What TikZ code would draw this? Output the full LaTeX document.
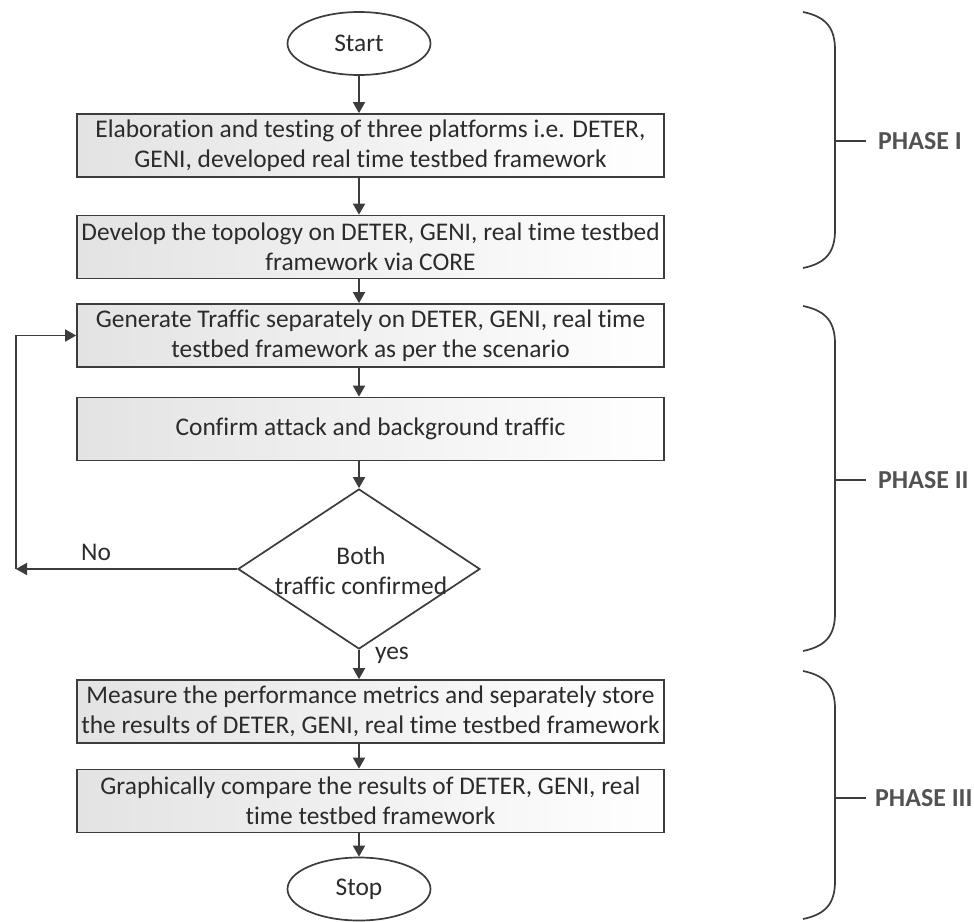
\documentclass[tikz,border=0pt]{standalone}
\usepackage{fontspec}
\setmainfont{Carlito}[Ligatures=NoCommon]
\usetikzlibrary{arrows.meta,shapes.geometric}
\definecolor{ln}{HTML}{3C3C3C}
\definecolor{tx}{HTML}{2B2B2B}
\begin{document}
\begin{tikzpicture}[x=1bp,y=-1bp,
  every node/.style={text=tx},
  txt/.style={font=\fontsize{25.5}{30.5}\selectfont, align=center, inner sep=0},
  box/.style={txt, draw=ln, line width=1.7bp, left color=black!11, right color=white,
    minimum width=587bp, minimum height=63bp},
  term/.style={txt, ellipse, draw=ln, line width=1.7bp, fill=white,
    minimum width=143bp, minimum height=63bp},
  decision/.style={diamond, draw=ln, line width=1.7bp, fill=white,
    minimum width=242bp, minimum height=160bp, inner sep=0},
  arr/.style={draw=ln, line width=1.7bp, -{Triangle[length=11bp,width=12bp]}},
  bracecurve/.style={draw=ln, line width=1.7bp},
  phase/.style={font=\fontsize{26}{30}\selectfont\bfseries, text=black!68, anchor=west, inner sep=0}
]
\useasboundingbox[fill=white] (0,0) rectangle (974,922);

\coordinate (col) at (359,0);
\node[term] (start) at (359,43.5) {Start};
\node[box] (b1) at (370.5,145.5) {Elaboration and testing of three platforms i.e. DETER,\\GENI, developed real time testbed framework};
\node[box] (b2) at (370.5,247) {Develop the topology on DETER, GENI, real time testbed\\framework via CORE};
\node[box] (b3) at (370.5,335.5) {Generate Traffic separately on DETER, GENI, real time\\testbed framework as per the scenario};
\node[box] (b4) at (370.5,429) {Confirm attack and background traffic};
\node[decision] (dia) at (359,569) {};
\node[txt] (diatext) at (361,571) {Both\\traffic confirmed};
\node[box] (b5) at (370.5,711.5) {Measure the performance metrics and separately store\\the results of DETER, GENI, real time testbed framework};
\node[box] (b6) at (370.5,801) {Graphically compare the results of DETER, GENI, real\\time testbed framework};
\node[term] (stop) at (359,889) {Stop};

\draw[arr] (start.south) -- (start.south |- b1.north);
\draw[arr] (b1.south -| col) -- (b2.north -| col);
\draw[arr] (b2.south -| col) -- (b3.north -| col);
\draw[arr] (b3.south -| col) -- (b4.north -| col);
\draw[arr] (b4.south -| col) -- (dia.north);
\draw[arr] (dia.south) -- (b5.north -| col);
\draw[arr] (b5.south -| col) -- (b6.north -| col);
\draw[arr] (b6.south -| col) -- (stop.north);

\coordinate (lc) at (16,569);
\draw[arr] (dia.west) -- (lc);
\draw[arr] (lc) -- (lc |- b3.west) -- (b3.west);
\node[txt] (nolab) at (96,552) {No};
\node[txt] (yeslab) at (392,655) {yes};

% braces
\draw[bracecurve] (803,12) .. controls (828,17) and (835,30) .. (835,50) -- (835,230) .. controls (835,250) and (828,263) .. (803,268);
\draw[bracecurve] (835,141) -- (866,141);
\node[phase] (p1) at (878,141) {PHASE I};

\draw[bracecurve] (803,306) .. controls (828,311) and (835,324) .. (835,344) -- (835,613) .. controls (835,633) and (828,646) .. (803,651);
\draw[bracecurve] (835,480) -- (866,480);
\node[phase] (p2) at (878,480) {PHASE II};

\draw[bracecurve] (803,671) .. controls (828,676) and (835,689) .. (835,709) -- (835,881) .. controls (835,901) and (828,914) .. (803,919);
\draw[bracecurve] (835,798) -- (866,798);
\node[phase] (p3) at (875,798) {PHASE III};
\end{tikzpicture}
\end{document}
